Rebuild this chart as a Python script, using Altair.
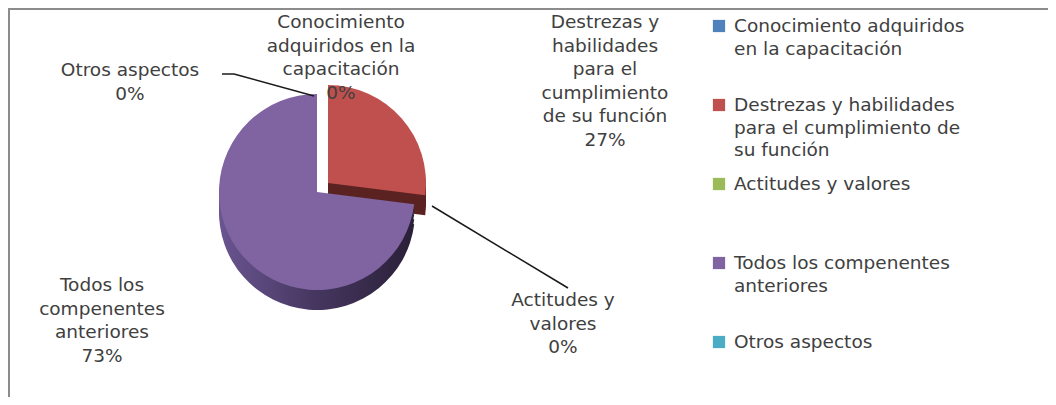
import math
import altair as alt
import pandas as pd

# ---- data ----
categories = [
    "Conocimiento adquiridos en la capacitación",
    "Destrezas y habilidades para el cumplimiento de su función",
    "Actitudes y valores",
    "Todos los compenentes anteriores",
    "Otros aspectos",
]
values = [0, 27, 0, 73, 0]
pie_label_text = [
    "Conocimiento\nadquiridos en la\ncapacitación",
    "Destrezas y\nhabilidades\npara el\ncumplimiento\nde su función",
    "Actitudes y\nvalores",
    "Todos los\ncompenentes\nanteriores",
    "Otros aspectos",
]
legend_text = [
    "Conocimiento adquiridos\nen la capacitación",
    "Destrezas y habilidades\npara el cumplimiento de\nsu función",
    "Actitudes y valores",
    "Todos los compenentes\nanteriores",
    "Otros aspectos",
]
colors = ["#4F81BD", "#C0504D", "#9BBB59", "#8064A2", "#4BACC6"]
side_colors = ["#2A4466", "#5A2220", "#3C4B23", "#3E3056", "#256472"]

# ---- layout (chart coordinates; page = chart + 8) ----
W, H = 1040, 389
CX, CY, R, DEPTH = 309, 184, 98, 20
explode = {1: (11, -9), 2: (11, -9)}
label_pos = {0: (333, 14), 1: (597, 14), 2: (555, 292), 3: (94, 277), 4: (122, 62)}
FONT = "DejaVu Sans"
FS = 18.5
LH = 23.6
TXT = "#404040"

df = pd.DataFrame({
    "idx": list(range(len(categories))),
    "cat": categories,
    "value": values,
    "plabel": pie_label_text,
    "llabel": legend_text,
})
total = float(sum(values))

base = (
    alt.Chart(df)
    .transform_window(cum="sum(value)", sort=[alt.SortField("idx")], frame=[None, 0])
    .transform_joinaggregate(total="sum(value)")
    .transform_calculate(start="datum.cum - datum.value")
)
theta_scale = alt.Scale(domain=[0, total], range=[0, 2 * math.pi])

layers = []
# frame (top and left border)
frame_src = alt.Chart(alt.Data(values=[{}]))
layers.append(frame_src.mark_rule(color="#8c8c8c", strokeWidth=2).encode(
    x=alt.value(0), x2=alt.value(W), y=alt.value(1)))
layers.append(frame_src.mark_rule(color="#8c8c8c", strokeWidth=2).encode(
    x=alt.value(1), y=alt.value(0), y2=alt.value(H)))

purple_side = alt.LinearGradient(
    gradient="linear", x1=0, x2=1, y1=0, y2=0,
    stops=[alt.GradientStop(color="#6A5590", offset=0),
           alt.GradientStop(color="#45365F", offset=0.5),
           alt.GradientStop(color="#2A2038", offset=1)],
)

# 3D side faces (darker copies shifted down)
for i in range(len(categories)):
    ox, oy = explode.get(i, (0, 0))
    fill = purple_side if i == 3 else side_colors[i]
    for k in (DEPTH, DEPTH * 3 / 4, DEPTH / 2, DEPTH / 4):
        layers.append(
            base.transform_filter(f"datum.idx == {i}")
            .mark_arc(outerRadius=R, fill=fill)
            .encode(
                theta=alt.Theta("start:Q", scale=theta_scale),
                theta2="cum:Q",
                x=alt.value(CX + ox),
                y=alt.value(CY + oy + k),
            )
        )
# top faces
for i in range(len(categories)):
    ox, oy = explode.get(i, (0, 0))
    layers.append(
        base.transform_filter(f"datum.idx == {i}")
        .mark_arc(outerRadius=R, fill=colors[i])
        .encode(
            theta=alt.Theta("start:Q", scale=theta_scale),
            theta2="cum:Q",
            x=alt.value(CX + ox),
            y=alt.value(CY + oy),
        )
    )

# leader lines
layers.append(base.transform_filter("datum.idx == 4").mark_rule(color="#1a1a1a", strokeWidth=1.5).encode(
    x=alt.value(214), x2=alt.value(226), y=alt.value(66), y2=alt.value(66)))
layers.append(base.transform_filter("datum.idx == 4").mark_rule(color="#1a1a1a", strokeWidth=1.5).encode(
    x=alt.value(226), x2=alt.value(306), y=alt.value(66), y2=alt.value(88)))
layers.append(base.transform_filter("datum.idx == 2").mark_rule(color="#1a1a1a", strokeWidth=1.5).encode(
    x=alt.value(424), x2=alt.value(560), y=alt.value(198), y2=alt.value(280)))

# pie labels
for i in range(len(categories)):
    px, py = label_pos[i]
    layers.append(
        base.transform_filter(f"datum.idx == {i}")
        .transform_calculate(txt="datum.plabel + '\\n' + format(datum.value / datum.total, '.0%')")
        .mark_text(lineBreak="\n", align="center", baseline="alphabetic", font=FONT,
                   fontSize=FS, lineHeight=LH, color=TXT)
        .encode(text="txt:N", x=alt.value(px), y=alt.value(py + 6))
    )

# legend (drawn from the category list through a point scale)
ly = alt.Y("cat:N", sort=categories, axis=None,
           scale=alt.Scale(type="point", range=[18, 334], padding=0))
layers.append(
    base.mark_square(size=150, opacity=1, filled=True).encode(
        x=alt.value(711), y=ly,
        color=alt.Color("cat:N", scale=alt.Scale(domain=categories, range=colors), legend=None),
    )
)
layers.append(
    base.mark_text(lineBreak="\n", align="left", baseline="alphabetic", font=FONT,
                   fontSize=FS, lineHeight=22.6, color=TXT, dy=6)
    .encode(x=alt.value(726), y=ly, text="llabel:N")
)

chart = (
    alt.layer(*layers)
    .properties(width=W, height=H, autosize=alt.AutoSizeParams(type="none"), padding=0)
    .configure_view(stroke=None)
    .configure(background="white")
)
chart.save("out.html", embed_options={"renderer": "svg", "actions": False})
